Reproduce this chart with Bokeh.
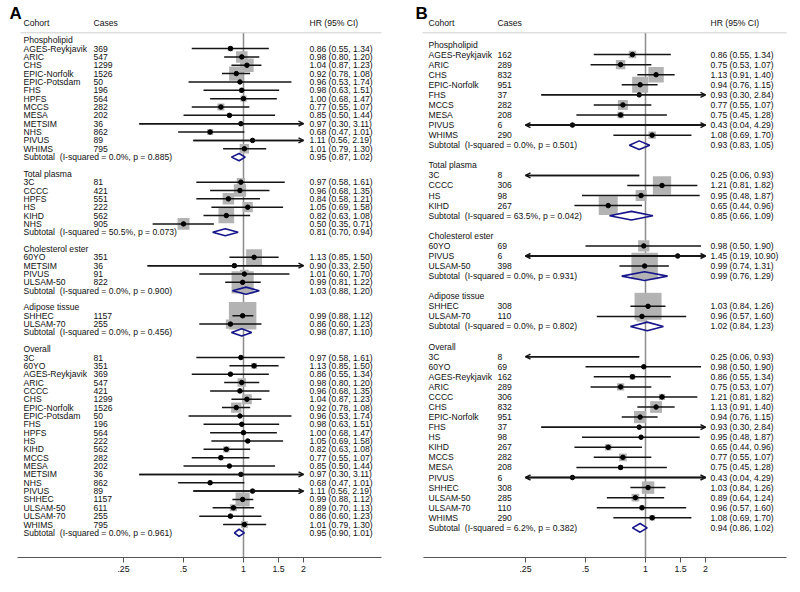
import math
from bokeh.plotting import figure
from bokeh.models import (Range1d, ColumnDataSource, FixedTicker,
                          CustomJSTickFormatter, Arrow, OpenHead)
from bokeh.layouts import row
from bokeh.embed import file_html
from bokeh.resources import INLINE
from bokeh.core.properties import value

groups = ["Phospholipid", "Total plasma", "Cholesterol ester", "Adipose tissue", "Overall"]
tick_values = [0.25, 0.5, 1, 1.5, 2]
x_clip = (0.25, 2.0)

# ---------------- Panel A ----------------
a_group_sizes = [13, 6, 4, 2, 21]
a_cohort = ["AGES-Reykjavik", "ARIC", "CHS", "EPIC-Norfolk", "EPIC-Potsdam", "FHS", "HPFS", "MCCS", "MESA", "METSIM", "NHS", "PIVUS", "WHIMS",
            "3C", "CCCC", "HPFS", "HS", "KIHD", "NHS",
            "60YO", "METSIM", "PIVUS", "ULSAM-50",
            "SHHEC", "ULSAM-70",
            "3C", "60YO", "AGES-Reykjavik", "ARIC", "CCCC", "CHS", "EPIC-Norfolk", "EPIC-Potsdam", "FHS", "HPFS", "HS", "KIHD", "MCCS", "MESA", "METSIM", "NHS", "PIVUS", "SHHEC", "ULSAM-50", "ULSAM-70", "WHIMS"]
a_cases = [369, 547, 1299, 1526, 50, 196, 564, 282, 202, 36, 862, 89, 795,
           81, 421, 551, 222, 562, 905,
           351, 36, 91, 822,
           1157, 255,
           81, 351, 369, 547, 421, 1299, 1526, 50, 196, 564, 222, 562, 282, 202, 36, 862, 89, 1157, 611, 255, 795]
a_hr = [0.86, 0.98, 1.04, 0.92, 0.96, 0.98, 1.00, 0.77, 0.85, 0.97, 0.68, 1.11, 1.01,
        0.97, 0.96, 0.84, 1.05, 0.82, 0.50,
        1.13, 0.90, 1.01, 0.99,
        0.99, 0.86,
        0.97, 1.13, 0.86, 0.98, 0.96, 1.04, 0.92, 0.96, 0.98, 1.00, 1.05, 0.82, 0.77, 0.85, 0.97, 0.68, 1.11, 0.99, 0.89, 0.86, 1.01]
a_lo = [0.55, 0.80, 0.87, 0.78, 0.53, 0.63, 0.68, 0.55, 0.50, 0.30, 0.47, 0.56, 0.79,
        0.58, 0.68, 0.58, 0.69, 0.63, 0.35,
        0.85, 0.33, 0.60, 0.81,
        0.88, 0.60,
        0.58, 0.85, 0.55, 0.80, 0.68, 0.87, 0.78, 0.53, 0.63, 0.68, 0.69, 0.63, 0.55, 0.50, 0.30, 0.47, 0.56, 0.88, 0.70, 0.60, 0.79]
a_hi = [1.34, 1.20, 1.23, 1.08, 1.74, 1.51, 1.47, 1.07, 1.44, 3.11, 1.01, 2.19, 1.30,
        1.61, 1.35, 1.21, 1.58, 1.08, 0.71,
        1.50, 2.50, 1.70, 1.22,
        1.12, 1.23,
        1.61, 1.50, 1.34, 1.20, 1.35, 1.23, 1.08, 1.74, 1.51, 1.47, 1.58, 1.08, 1.07, 1.44, 3.11, 1.01, 2.19, 1.12, 1.13, 1.23, 1.30]
a_weight = [3.3, 15.8, 21.7, 24.6, 1.8, 3.4, 4.4, 5.9, 2.3, 0.5, 4.4, 1.4, 10.5,
            8.1, 18.0, 15.6, 12.3, 29.1, 16.9,
            30.3, 2.4, 9.0, 58.3,
            89.9, 10.1,
            1.3, 4.2, 1.7, 8.3, 2.9, 11.4, 12.9, 1.0, 1.8, 2.3, 2.0, 4.7, 3.1, 1.2, 0.2, 2.3, 0.7, 23.5, 6.0, 2.7, 5.5]
a_sub_i2 = [0.0, 50.5, 0.0, 0.0, 0.0]
a_sub_p = [0.885, 0.073, 0.900, 0.456, 0.961]
a_sub_hr = [0.95, 0.81, 1.03, 0.98, 0.95]
a_sub_lo = [0.87, 0.70, 0.88, 0.87, 0.90]
a_sub_hi = [1.02, 0.94, 1.20, 1.10, 1.01]

# ---------------- Panel B ----------------
b_group_sizes = [9, 4, 3, 2, 17]
b_cohort = ["AGES-Reykjavik", "ARIC", "CHS", "EPIC-Norfolk", "FHS", "MCCS", "MESA", "PIVUS", "WHIMS",
            "3C", "CCCC", "HS", "KIHD",
            "60YO", "PIVUS", "ULSAM-50",
            "SHHEC", "ULSAM-70",
            "3C", "60YO", "AGES-Reykjavik", "ARIC", "CCCC", "CHS", "EPIC-Norfolk", "FHS", "HS", "KIHD", "MCCS", "MESA", "PIVUS", "SHHEC", "ULSAM-50", "ULSAM-70", "WHIMS"]
b_cases = [162, 289, 832, 951, 37, 282, 208, 6, 290,
           8, 306, 98, 267,
           69, 6, 398,
           308, 110,
           8, 69, 162, 289, 306, 832, 951, 37, 98, 267, 282, 208, 6, 308, 285, 110, 290]
b_hr = [0.86, 0.75, 1.13, 0.94, 0.93, 0.77, 0.75, 0.43, 1.08,
        0.25, 1.21, 0.95, 0.65,
        0.98, 1.45, 0.99,
        1.03, 0.96,
        0.25, 0.98, 0.86, 0.75, 1.21, 1.13, 0.94, 0.93, 0.95, 0.65, 0.77, 0.75, 0.43, 1.03, 0.89, 0.96, 1.08]
b_lo = [0.55, 0.53, 0.91, 0.76, 0.30, 0.55, 0.45, 0.04, 0.69,
        0.06, 0.81, 0.48, 0.44,
        0.50, 0.19, 0.74,
        0.84, 0.57,
        0.06, 0.50, 0.55, 0.53, 0.81, 0.91, 0.76, 0.30, 0.48, 0.44, 0.55, 0.45, 0.04, 0.84, 0.64, 0.57, 0.69]
b_hi = [1.34, 1.07, 1.40, 1.15, 2.84, 1.07, 1.28, 4.29, 1.70,
        0.93, 1.82, 1.87, 0.96,
        1.90, 10.90, 1.31,
        1.26, 1.60,
        0.93, 1.90, 1.34, 1.07, 1.82, 1.40, 1.15, 2.84, 1.87, 0.96, 1.07, 1.28, 4.29, 1.26, 1.24, 1.60, 1.70]
b_weight = [6.6, 10.6, 28.1, 30.4, 1.0, 11.8, 4.8, 0.2, 6.4,
            3.5, 39.6, 14.1, 42.8,
            15.2, 1.7, 83.2,
            86.7, 13.3,
            0.4, 1.7, 3.8, 6.2, 4.6, 16.4, 17.7, 0.6, 1.6, 5.0, 6.9, 2.8, 0.1, 18.5, 7.0, 2.9, 3.7]
b_sub_i2 = [0.0, 63.5, 0.0, 0.0, 6.2]
b_sub_p = [0.501, 0.042, 0.931, 0.802, 0.382]
b_sub_hr = [0.93, 0.85, 0.99, 1.02, 0.94]
b_sub_lo = [0.83, 0.66, 0.76, 0.84, 0.86]
b_sub_hi = [1.05, 1.09, 1.29, 1.23, 1.02]

FONT = "Liberation Sans"
FS = "8.6px"
TXT = "#111111"
BOX = "#b3b3b3"
NAVY = "#16168a"
INK = "#151515"

# layout (page pixels; the page itself has no margin)
LA = dict(left=0, one=243, ppl2=60, row0=39.7, sp=8.35, name=23, cases=93, hrcol=309,
          sep=(20, 381), axis=(17, 381), label=9)
LB = dict(left=400, one=645, ppl2=60, row0=44.0, sp=10.07, name=428, cases=497, hrcol=710,
          sep=(422, 786), axis=(423, 786), label=415)


def panel(letter, sizes, cohort, cases, hr, lo, hi, wt, s_i2, s_p, s_hr, s_lo, s_hi, L):
    W, H = 400, 592
    top, bottom = 0, 557

    def hx(px):
        return 2 ** ((px - L["one"]) / L["ppl2"])

    def ry(py):
        return 1 + (py - L["row0"]) / L["sp"]

    p = figure(width=W, height=H, x_axis_type="log",
               x_range=Range1d(hx(L["left"]), hx(L["left"] + W)),
               y_range=Range1d(ry(bottom), ry(top)),
               output_backend="svg", toolbar_location=None, y_axis_location=None,
               min_border_left=0, min_border_right=0, min_border_top=0,
               min_border_bottom=H - (bottom - top))
    p.grid.visible = False
    p.outline_line_color = None
    p.background_fill_color = "white"
    p.border_fill_color = "white"
    p.styles = {"outline": "1px solid #dde2e6", "outline-offset": "-3px"}

    left_y, left_t = [], []
    case_y, case_t = [], []
    hr_y, hr_t = [], []
    st_y, st_hr, st_x0, st_x1, st_w = [], [], [], [], []
    la_y, la_x0, ra_y, ra_x0 = [], [], [], []
    la_x1, ra_x1 = [], []
    d_xs, d_ys = [], []

    r = 1
    k = 0
    for gi, g in enumerate(groups):
        left_y.append(r); left_t.append(g)
        r += 1
        for _ in range(sizes[gi]):
            left_y.append(r); left_t.append(cohort[k])
            case_y.append(r); case_t.append(str(cases[k]))
            hr_y.append(r); hr_t.append("%.2f (%.2f, %.2f)" % (hr[k], lo[k], hi[k]))
            x0 = max(lo[k], x_clip[0]); x1 = min(hi[k], x_clip[1])
            st_y.append(r); st_x0.append(x0); st_x1.append(x1)
            st_hr.append(hr[k]); st_w.append(wt[k])
            if lo[k] < x_clip[0]:
                la_y.append(r); la_x0.append(x1); la_x1.append(x_clip[0])
            if hi[k] > x_clip[1]:
                ra_y.append(r); ra_x0.append(x0); ra_x1.append(x_clip[1])
            k += 1
            r += 1
        left_y.append(r)
        left_t.append("Subtotal\u00a0 (I-squared = %.1f%%, p = %.3f)" % (s_i2[gi], s_p[gi]))
        hr_y.append(r); hr_t.append("%.2f (%.2f, %.2f)" % (s_hr[gi], s_lo[gi], s_hi[gi]))
        h = 0.43
        d_xs.append([s_lo[gi], s_hr[gi], s_hi[gi], s_hr[gi]])
        d_ys.append([r, r - h, r, r + h])
        r += 2

    r_sep = ry(32.3)
    r_head = ry(22.7)

    # null line
    p.segment(x0=[1], y0=[r_sep], x1=[1], y1=[ry(bottom)], line_color="#8c8c8c", line_width=1.5)
    # header separator
    p.segment(x0=[hx(L["sep"][0])], y0=[r_sep], x1=[hx(L["sep"][1])], y1=[r_sep],
              line_color="#cfcfcf", line_width=1)

    # boxes (only if estimate is inside the plotted range)
    inside = [i for i, v in enumerate(st_hr) if x_clip[0] < v < x_clip[1]]
    box_src = ColumnDataSource(dict(
        x=[st_hr[i] for i in inside], y=[st_y[i] for i in inside],
        s=[2.9 * math.sqrt(st_w[i]) for i in inside]))
    p.scatter(x="x", y="y", size="s", marker="square", source=box_src,
              fill_color=BOX, line_color=None)

    # CI lines
    p.segment(x0=st_x0, y0=st_y, x1=st_x1, y1=st_y, line_color=INK, line_width=1.5)
    # arrows for clipped CIs
    for ys, xs0, xs1 in ((la_y, la_x0, la_x1), (ra_y, ra_x0, ra_x1)):
        if ys:
            p.add_layout(Arrow(end=OpenHead(size=5, line_width=1.5, line_color=INK),
                               x_start="x0", y_start="y", x_end="x1", y_end="y",
                               line_width=1.5, line_color=INK,
                               source=ColumnDataSource(dict(x0=xs0, x1=xs1, y=ys))))
    # point estimates
    p.scatter(x=[st_hr[i] for i in inside], y=[st_y[i] for i in inside], size=4.5,
              marker="circle", fill_color="black", line_color="black")

    # subtotal diamonds
    p.patches(xs=d_xs, ys=d_ys, fill_alpha=0, line_color=NAVY, line_width=1.6)

    # texts
    tkw = dict(text_font=value(FONT), text_font_size=value(FS), text_baseline="middle",
               text_align="left", text_color=TXT)
    p.text(x=[hx(L["name"])] * len(left_y), y=left_y, text=left_t, **tkw)
    p.text(x=[hx(L["cases"])] * len(case_y), y=case_y, text=case_t, **tkw)
    p.text(x=[hx(L["hrcol"])] * len(hr_y), y=hr_y, text=hr_t, **tkw)
    p.text(x=[hx(L["name"]), hx(L["cases"]), hx(L["hrcol"])], y=[r_head] * 3,
           text=["Cohort", "Cases", "HR (95% CI)"], **tkw)
    p.text(x=[hx(L["label"])], y=[ry(13)], text=[letter], text_font=value("Liberation Sans"),
           text_font_size=value("17px"), text_font_style="bold", text_baseline="middle",
           text_align="left", text_color="black")

    ax = p.xaxis[0]
    ax.ticker = FixedTicker(ticks=tick_values)
    ax.formatter = CustomJSTickFormatter(
        code="var s = String(tick); return s.indexOf('0.') === 0 ? s.slice(1) : s;")
    ax.bounds = (hx(L["axis"][0]), hx(L["axis"][1]))
    ax.major_tick_in = 0
    ax.major_tick_out = 5
    ax.minor_tick_line_color = None
    ax.axis_line_color = "#555555"
    ax.major_tick_line_color = "#555555"
    ax.major_label_text_font = FONT
    ax.major_label_text_font_size = "8.8px"
    ax.major_label_text_color = TXT
    ax.major_label_standoff = 3
    return p


pa = panel("A", a_group_sizes, a_cohort, a_cases, a_hr, a_lo, a_hi, a_weight,
           a_sub_i2, a_sub_p, a_sub_hr, a_sub_lo, a_sub_hi, LA)
pb = panel("B", b_group_sizes, b_cohort, b_cases, b_hr, b_lo, b_hi, b_weight,
           b_sub_i2, b_sub_p, b_sub_hr, b_sub_lo, b_sub_hi, LB)

layout = row(pa, pb)
open("out.html", "w").write(file_html(layout, INLINE))
